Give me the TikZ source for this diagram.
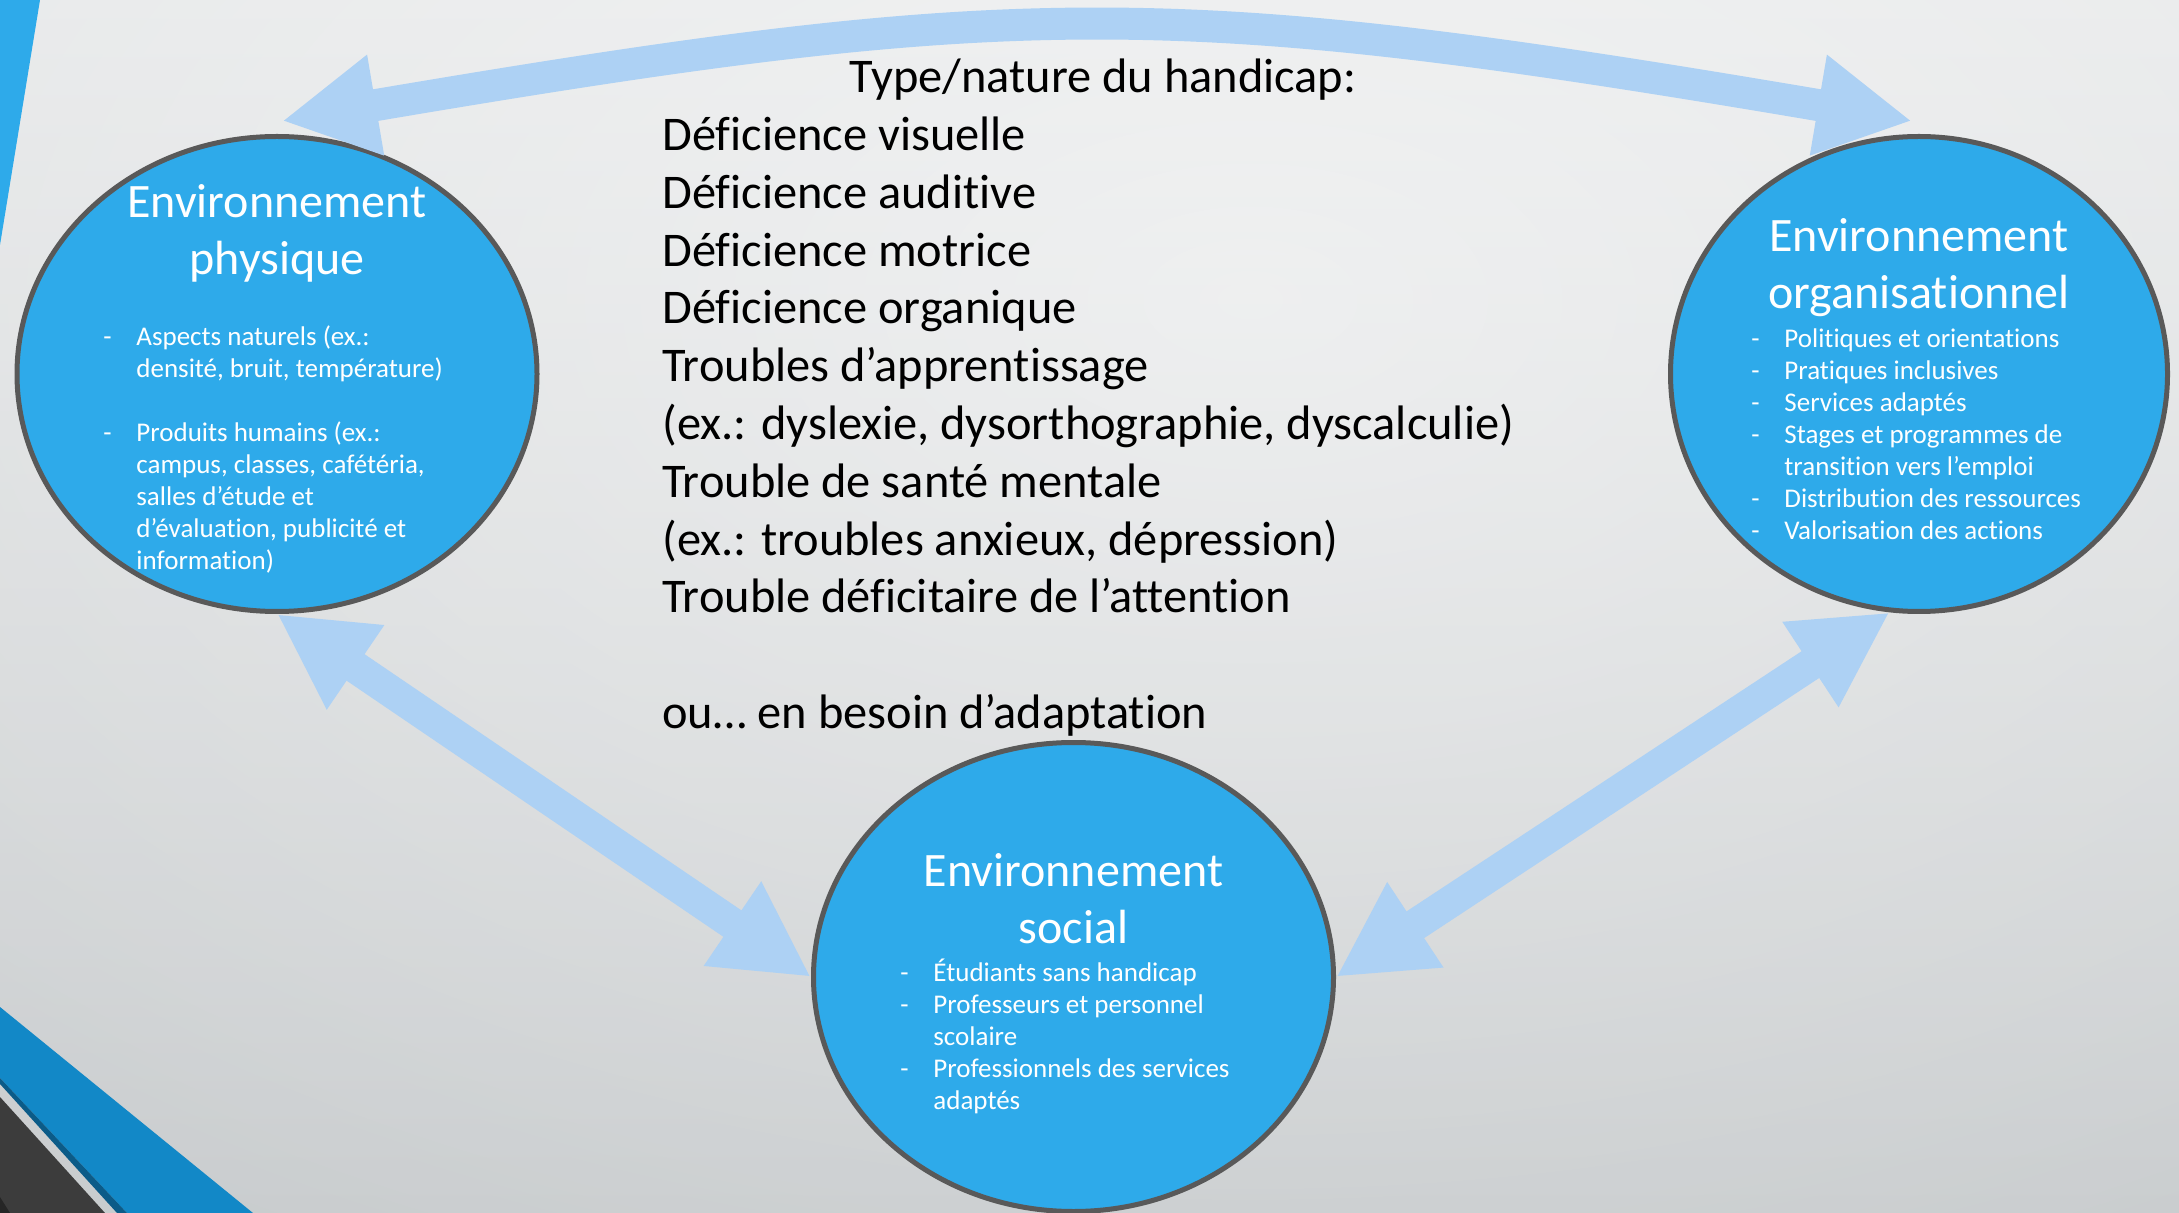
\documentclass[tikz,border=0pt]{standalone}
\usepackage{fontspec}
\setmainfont{Carlito}[Ligatures=NoCommon]
\usetikzlibrary{arrows.meta,shapes.geometric,fadings}

\definecolor{bgtop}{HTML}{E2E4E5}
\definecolor{bgbot}{HTML}{C0C4C6}
\definecolor{envblue}{HTML}{2EAAEA}
\definecolor{envedge}{HTML}{595959}
\definecolor{linkblue}{HTML}{ADD1F4}
\definecolor{bandblue}{HTML}{1288C7}
\definecolor{banddark}{HTML}{0B5B88}
\definecolor{cornergray}{HTML}{3C3C3C}
\tikzfading[name=glow, inner color=transparent!45, outer color=transparent!100]

\newcommand{\dashitem}{\makebox[16.5pt][l]{-}}
\newcommand{\dashcont}{\hspace*{16.5pt}}

\tikzset{
  env/.style={ellipse, draw=envedge, line width=2.5pt, fill=envblue},
  envtitle/.style={inner sep=0pt, anchor=base, text=white, font=\fontsize{24}{28.5}\selectfont},
  envlist/.style={inner sep=0pt, anchor=base west, text=white, font=\fontsize{13.5}{16}\selectfont},
  typetext/.style={inner sep=0pt, text=black, font=\fontsize{24.2}{28.9}\selectfont},
  link/.style={<->, line width=16pt, draw=linkblue}
}

\begin{document}
\begin{tikzpicture}[x=0.5pt,y=-0.5pt,>={Triangle[length=47.5pt,width=47.5pt]}]
\clip (0,0) rectangle (2179,1213);
% fond
\shade[top color=bgtop,bottom color=bgbot] (0,0) rectangle (2179,1213);
\fill[white,path fading=glow] (1250,300) ellipse (2600 and 1500);
% bandes du coin
\fill[envblue] (0,0) -- (40,0) -- (0,245) -- cycle;
\fill[bandblue] (0,1007) -- (253,1213) -- (127,1213) -- (0,1078) -- cycle;
\fill[banddark] (0,1078) -- (127,1213) -- (117,1213) -- (0,1084) -- cycle;
\fill[cornergray] (0,1097) -- (105,1213) -- (0,1213) -- cycle;
\fill[black!85] (0,1197) -- (10,1213) -- (0,1213) -- cycle;
% environnements
\node[env,minimum width=260pt,minimum height=237.5pt] (phys) at (277,374) {};
\node[env,minimum width=248.5pt,minimum height=237.5pt] (orga) at (1919,374) {};
\node[env,minimum width=260pt,minimum height=234.5pt] (soc) at (1073.5,977) {};
% fleches
\draw[link] ([shift={(5,-13)}]phys.north) .. controls +(737,-125) and +(-737,-125) .. ([shift={(-7,-13)}]orga.north);
\draw[link] (phys.south) -- (soc.west);
\draw[link] (soc.east) -- (orga.263.6);
% type de handicap
\node[typetext,anchor=base] (head) at (1103,93) {Type/nature du handicap:};
\node[typetext,anchor=base west] (types) at (662,150.5) {\begin{tabular}[t]{@{}l@{}}
Déficience visuelle\\
Déficience auditive\\
Déficience motrice\\
Déficience organique\\
Troubles d’apprentissage\\
(ex.: dyslexie, dysorthographie, dyscalculie)\\
Trouble de santé mentale\\
(ex.: troubles anxieux, dépression)\\
Trouble déficitaire de l’attention\\
\\
ou… en besoin d’adaptation
\end{tabular}};
% titres
\node[envtitle] (physT) at (277,218) {\begin{tabular}[t]{@{}c@{}}Environnement\\physique\end{tabular}};
\node[envtitle] (orgaT) at (1919,252) {\begin{tabular}[t]{@{}c@{}}Environnement\\organisationnel\end{tabular}};
\node[envtitle] (socT) at (1073.5,886) {\begin{tabular}[t]{@{}c@{}}Environnement\\social\end{tabular}};
% listes
\node[envlist] (physL) at (103,345.6) {\begin{tabular}[t]{@{}l@{}}
\dashitem Aspects naturels (ex.:\\
\dashcont densité, bruit, température)\\
\\
\dashitem Produits humains (ex.:\\
\dashcont campus, classes, cafétéria,\\
\dashcont salles d’étude et\\
\dashcont d’évaluation, publicité et\\
\dashcont information)
\end{tabular}};
\node[envlist] (orgaL) at (1751,348) {\begin{tabular}[t]{@{}l@{}}
\dashitem Politiques et orientations\\
\dashitem Pratiques inclusives\\
\dashitem Services adaptés\\
\dashitem Stages et programmes de\\
\dashcont transition vers l’emploi\\
\dashitem Distribution des ressources\\
\dashitem Valorisation des actions
\end{tabular}};
\node[envlist] (socL) at (900,981.7) {\begin{tabular}[t]{@{}l@{}}
\dashitem Étudiants sans handicap\\
\dashitem Professeurs et personnel\\
\dashcont scolaire\\
\dashitem Professionnels des services\\
\dashcont adaptés
\end{tabular}};
\end{tikzpicture}
\end{document}
